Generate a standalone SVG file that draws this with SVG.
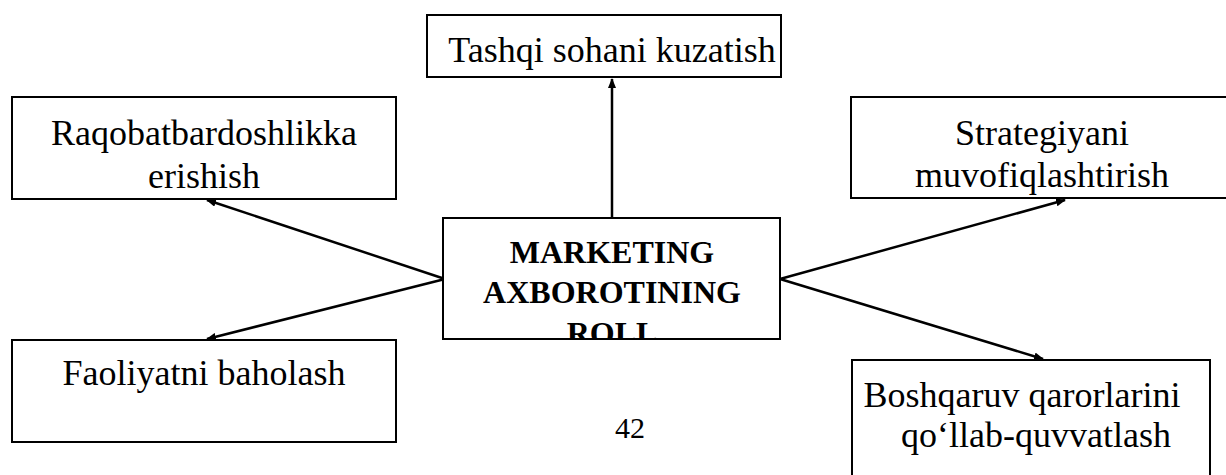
<svg xmlns="http://www.w3.org/2000/svg" width="1226" height="475" viewBox="0 0 1226 475">
<style>
.box{fill:#fff;stroke:#000;stroke-width:2}
text{font-family:'Liberation Serif','Times New Roman',Tinos,'DejaVu Serif',serif;fill:#000;text-anchor:middle}
.t{font-size:36px}
.b{font-size:32px;font-weight:bold}
.c{stroke:#000;stroke-width:2.5;fill:none;marker-end:url(#ah)}
</style>
<defs>
<marker id="ah" markerWidth="10" markerHeight="8" refX="9" refY="4" orient="auto" markerUnits="userSpaceOnUse">
<path d="M0,0 L10,4 L0,8 z" fill="#000"/>
</marker>
<clipPath id="cc"><rect x="444" y="219" width="335" height="119"/></clipPath>
<clipPath id="cr"><rect x="852" y="98" width="380" height="99"/></clipPath>
</defs>
<rect width="1226" height="475" fill="#fff"/>
<g id="connectors">
<line class="c" x1="612" y1="218" x2="612" y2="79"/>
<line class="c" x1="445" y1="279" x2="207" y2="200"/>
<line class="c" x1="445" y1="279" x2="207" y2="339"/>
<line class="c" x1="780" y1="279" x2="1065" y2="200"/>
<line class="c" x1="780" y1="279" x2="1043" y2="359"/>
</g>
<g id="top">
<rect class="box" x="427" y="15" width="354" height="62"/>
<text class="t" x="612" y="62" font-family="Liberation Serif">Tashqi sohani kuzatish</text>
</g>
<g id="left-top">
<rect class="box" x="12" y="97" width="384" height="102"/>
<text class="t" x="204" y="145">Raqobatbardoshlikka</text>
<text class="t" x="204" y="188">erishish</text>
</g>
<g id="right-top">
<rect class="box" x="851" y="97" width="390" height="101"/>
<g clip-path="url(#cr)">
<text class="t" x="1042" y="145">Strategiyani</text>
<text class="t" x="1042" y="187">muvofiqlashtirish</text>
</g>
</g>
<g id="center">
<rect class="box" x="443" y="218" width="337" height="121"/>
<g clip-path="url(#cc)">
<text class="b" x="612" y="263">MARKETING</text>
<text class="b" x="612" y="303">AXBOROTINING</text>
<text class="b" x="612" y="344">ROLL</text>
</g>
</g>
<g id="left-bottom">
<rect class="box" x="12" y="340" width="384" height="102"/>
<text class="t" x="204" y="385">Faoliyatni baholash</text>
</g>
<g id="right-bottom">
<rect class="box" x="852" y="360" width="358" height="130"/>
<text class="t" x="1022" y="407">Boshqaruv qarorlarini</text>
<text class="t" x="1036" y="447">qo‘llab-quvvatlash</text>
</g>
<text class="t" x="630" y="438" style="font-size:30px">42</text>
</svg>
